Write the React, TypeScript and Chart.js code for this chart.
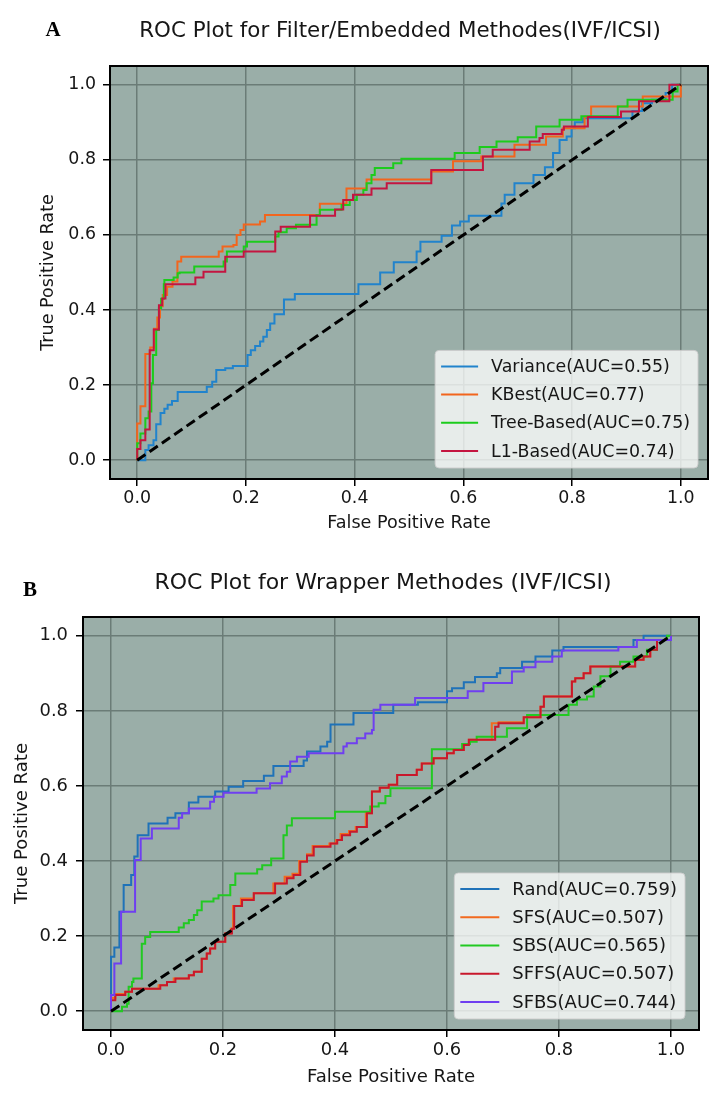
import React, { useEffect, useRef } from "react";
import { Chart, registerables } from "chart.js";

Chart.register(...registerables);

type Pt = [number, number];

// ---------------- shared axis values ----------------
const AXIS_TICKS = [0, 0.2, 0.4, 0.6, 0.8, 1.0];
const AXIS_MIN = -0.05;
const AXIS_MAX = 1.05;
const DIAGONAL: Pt[] = [[0, 0], [1, 1]];
const X_TITLE = "False Positive Rate";
const Y_TITLE = "True Positive Rate";

// ---------------- panel A ----------------
const TITLE_A = "ROC Plot for Filter/Embedded Methodes(IVF/ICSI)";
const LABELS_A = ["Variance(AUC=0.55)", "KBest(AUC=0.77)", "Tree-Based(AUC=0.75)", "L1-Based(AUC=0.74)"];
const COLORS_A = ["#2183cc", "#f2651d", "#1ccc1c", "#c41540"];

const varianceA: Pt[] = [[0,0],[0.015,0.027],[0.021,0.04],[0.03,0.053],[0.035,0.096],[0.043,0.126],[0.05,0.137],[0.056,0.148],[0.064,0.158],[0.0745,0.182],[0.128,0.196],[0.138,0.209],[0.1455,0.24],[0.162,0.245],[0.176,0.251],[0.203,0.28],[0.209,0.293],[0.217,0.304],[0.226,0.316],[0.232,0.329],[0.2385,0.347],[0.2446,0.364],[0.2525,0.389],[0.27,0.428],[0.29,0.443],[0.407,0.469],[0.447,0.5],[0.472,0.527],[0.514,0.556],[0.521,0.582],[0.56,0.598],[0.579,0.625],[0.594,0.636],[0.61,0.651],[0.67,0.684],[0.676,0.707],[0.694,0.738],[0.729,0.76],[0.75,0.78],[0.765,0.818],[0.777,0.853],[0.79,0.862],[0.799,0.884],[0.805,0.9],[0.82,0.911],[0.911,0.93],[0.929,0.951],[0.947,0.96],[0.972,0.978],[0.984,1],[1,1]];
const kbestA: Pt[] = [[0,0],[0,0.098],[0.006,0.144],[0.015,0.283],[0.024,0.3],[0.031,0.35],[0.037,0.38],[0.042,0.41],[0.047,0.44],[0.055,0.462],[0.065,0.476],[0.074,0.529],[0.081,0.542],[0.15,0.556],[0.157,0.569],[0.177,0.573],[0.183,0.6],[0.19,0.613],[0.196,0.628],[0.226,0.636],[0.235,0.653],[0.336,0.683],[0.385,0.724],[0.422,0.748],[0.541,0.769],[0.581,0.796],[0.633,0.809],[0.694,0.84],[0.752,0.862],[0.783,0.884],[0.823,0.915],[0.835,0.942],[0.93,0.969],[1,1]];
const treeA: Pt[] = [[0,0],[0,0.045],[0.006,0.071],[0.015,0.112],[0.021,0.13],[0.026,0.205],[0.029,0.28],[0.035,0.347],[0.04,0.405],[0.044,0.43],[0.049,0.469],[0.05,0.48],[0.067,0.487],[0.0745,0.498],[0.078,0.5],[0.105,0.516],[0.159,0.529],[0.165,0.556],[0.196,0.569],[0.202,0.582],[0.254,0.596],[0.26,0.607],[0.275,0.618],[0.292,0.627],[0.33,0.653],[0.336,0.667],[0.376,0.68],[0.391,0.693],[0.404,0.707],[0.416,0.72],[0.422,0.738],[0.431,0.76],[0.437,0.778],[0.471,0.791],[0.486,0.803],[0.584,0.818],[0.63,0.834],[0.661,0.849],[0.7,0.86],[0.734,0.889],[0.777,0.907],[0.817,0.916],[0.884,0.942],[0.902,0.96],[0.985,0.982],[0.994,1],[1,1]];
const l1A: Pt[] = [[0,0],[0,0.03],[0.006,0.053],[0.015,0.082],[0.023,0.293],[0.0305,0.348],[0.04,0.413],[0.046,0.431],[0.052,0.469],[0.107,0.487],[0.122,0.502],[0.162,0.542],[0.196,0.556],[0.254,0.609],[0.264,0.622],[0.318,0.651],[0.364,0.668],[0.379,0.693],[0.397,0.707],[0.431,0.724],[0.459,0.738],[0.541,0.773],[0.636,0.809],[0.654,0.827],[0.722,0.849],[0.74,0.858],[0.746,0.869],[0.781,0.88],[0.785,0.889],[0.829,0.914],[0.89,0.929],[0.923,0.956],[0.979,1],[1,1]];

// ---------------- panel B ----------------
const TITLE_B = "ROC Plot for Wrapper Methodes (IVF/ICSI)";
const LABELS_B = ["Rand(AUC=0.759)", "SFS(AUC=0.507)", "SBS(AUC=0.565)", "SFFS(AUC=0.507)", "SFBS(AUC=0.744)"];
const COLORS_B = ["#1f72b8", "#f26a1f", "#22c922", "#c8182c", "#6f3ff0"];

const randB: Pt[] = [[0,0],[0,0.145],[0.006,0.17],[0.015,0.265],[0.0226,0.336],[0.036,0.363],[0.0416,0.412],[0.0476,0.469],[0.067,0.5],[0.101,0.515],[0.115,0.527],[0.139,0.556],[0.156,0.571],[0.186,0.585],[0.21,0.598],[0.236,0.613],[0.273,0.627],[0.29,0.653],[0.344,0.668],[0.35,0.692],[0.374,0.705],[0.386,0.718],[0.392,0.764],[0.433,0.794],[0.504,0.816],[0.548,0.823],[0.6,0.852],[0.609,0.86],[0.63,0.876],[0.65,0.89],[0.689,0.9],[0.695,0.914],[0.734,0.931],[0.758,0.945],[0.788,0.961],[0.808,0.97],[0.933,0.989],[0.951,1],[1,1]];
const sfsB: Pt[] = [[0,0],[0,0.035],[0.0077,0.046],[0.0255,0.052],[0.0375,0.06],[0.085,0.069],[0.1,0.078],[0.112,0.087],[0.139,0.096],[0.148,0.105],[0.162,0.14],[0.171,0.154],[0.177,0.167],[0.186,0.185],[0.204,0.207],[0.214,0.22],[0.218,0.28],[0.232,0.3],[0.255,0.314],[0.29,0.34],[0.31,0.358],[0.324,0.366],[0.336,0.4],[0.35,0.418],[0.36,0.44],[0.39,0.447],[0.402,0.456],[0.41,0.472],[0.425,0.48],[0.437,0.491],[0.455,0.527],[0.466,0.585],[0.48,0.595],[0.496,0.603],[0.511,0.629],[0.546,0.643],[0.555,0.66],[0.576,0.674],[0.6,0.687],[0.612,0.696],[0.63,0.709],[0.639,0.723],[0.68,0.767],[0.692,0.77],[0.737,0.783],[0.767,0.811],[0.773,0.838],[0.823,0.878],[0.829,0.887],[0.844,0.9],[0.856,0.918],[0.936,0.936],[0.951,0.945],[0.963,0.963],[0.975,0.989],[1,1]];
const sbsB: Pt[] = [[0,0],[0.0196,0.012],[0.0286,0.02],[0.0315,0.065],[0.0375,0.078],[0.04,0.087],[0.055,0.18],[0.061,0.198],[0.07,0.211],[0.121,0.223],[0.13,0.234],[0.139,0.243],[0.148,0.256],[0.154,0.269],[0.162,0.292],[0.183,0.3],[0.192,0.309],[0.213,0.336],[0.222,0.367],[0.261,0.378],[0.27,0.389],[0.286,0.407],[0.308,0.469],[0.314,0.495],[0.323,0.514],[0.4,0.531],[0.463,0.545],[0.478,0.554],[0.49,0.573],[0.499,0.594],[0.573,0.698],[0.627,0.712],[0.641,0.718],[0.653,0.731],[0.707,0.754],[0.743,0.789],[0.817,0.816],[0.832,0.83],[0.85,0.838],[0.862,0.865],[0.874,0.892],[0.892,0.918],[0.909,0.931],[0.933,0.945],[0.957,0.963],[0.975,0.989],[0.993,1],[1,1]];
const sffsB: Pt[] = [[0,0],[0,0.029],[0.0077,0.043],[0.0255,0.052],[0.0375,0.06],[0.088,0.069],[0.1,0.078],[0.115,0.087],[0.139,0.096],[0.148,0.105],[0.162,0.14],[0.171,0.154],[0.177,0.167],[0.186,0.185],[0.204,0.207],[0.216,0.22],[0.22,0.28],[0.234,0.296],[0.255,0.314],[0.293,0.34],[0.314,0.354],[0.326,0.363],[0.338,0.398],[0.35,0.415],[0.362,0.438],[0.392,0.447],[0.404,0.456],[0.4125,0.469],[0.427,0.478],[0.439,0.491],[0.457,0.527],[0.466,0.585],[0.48,0.595],[0.496,0.603],[0.511,0.629],[0.546,0.643],[0.555,0.66],[0.576,0.674],[0.6,0.687],[0.612,0.696],[0.63,0.709],[0.639,0.723],[0.686,0.758],[0.692,0.767],[0.737,0.783],[0.767,0.811],[0.773,0.838],[0.823,0.878],[0.829,0.887],[0.844,0.9],[0.856,0.918],[0.936,0.936],[0.951,0.945],[0.963,0.963],[0.975,0.989],[1,1]];
const sfbsB: Pt[] = [[0,0],[0,0.043],[0.006,0.127],[0.018,0.265],[0.043,0.403],[0.053,0.46],[0.073,0.487],[0.121,0.515],[0.127,0.527],[0.139,0.54],[0.177,0.558],[0.184,0.571],[0.201,0.582],[0.26,0.593],[0.284,0.607],[0.305,0.625],[0.314,0.638],[0.32,0.665],[0.332,0.678],[0.353,0.687],[0.415,0.705],[0.421,0.714],[0.439,0.727],[0.454,0.74],[0.466,0.749],[0.469,0.803],[0.481,0.816],[0.543,0.834],[0.637,0.852],[0.665,0.874],[0.716,0.905],[0.737,0.916],[0.758,0.931],[0.788,0.945],[0.805,0.961],[0.906,0.97],[0.939,0.989],[1,1]];

// ---------------- styling ----------------
const FONT = '"DejaVu Sans", "Noto Sans", sans-serif';
const TEXT = "#161616";
const PLOT_BG = "#9aaea8";
const GRID = "#6b7c77";

interface Panel {
  letter: string;
  title: string;
  labels: string[];
  colors: string[];
  series: Pt[][];
  height: number;
  area: { left: number; top: number; right: number; bottom: number };
  titlePos: [number, number];
  letterPos: [number, number];
  titleSize: number;
  tickSize: number;
  labelSize: number;
  legendSize: number;
  tickPad: number;
  yTickPad: number;
  yTitlePad: number;
  xTitlePad: number;
  legend: { insetR: number; insetB: number; line: number; rowH: number };
}

const PANEL_A: Panel = {
  letter: "A", title: TITLE_A, labels: LABELS_A, colors: COLORS_A,
  series: [varianceA, kbestA, treeA, l1A],
  height: 540,
  area: { left: 110, top: 66, right: 708, bottom: 479 },
  titlePos: [400, 31], letterPos: [53, 31],
  titleSize: 21.4, tickSize: 17.4, labelSize: 17.6, legendSize: 17.4,
  tickPad: 2.5, yTickPad: 7, yTitlePad: 37.4, xTitlePad: 6.4,
  legend: { insetR: 10, insetB: 11, line: 37, rowH: 28.2 },
};

const PANEL_B: Panel = {
  letter: "B", title: TITLE_B, labels: LABELS_B, colors: COLORS_B,
  series: [randB, sfsB, sbsB, sffsB, sfbsB],
  height: 571,
  area: { left: 83, top: 77, right: 699, bottom: 490 },
  titlePos: [383, 43], letterPos: [30, 51],
  titleSize: 22, tickSize: 17.9, labelSize: 18.1, legendSize: 18,
  tickPad: 2.3, yTickPad: 8, yTitlePad: 11.1, xTitlePad: 23.1,
  legend: { insetR: 14, insetB: 11, line: 39, rowH: 28.25 },
};

function roundRect(ctx: CanvasRenderingContext2D, x: number, y: number, w: number, h: number, r: number) {
  ctx.beginPath();
  ctx.moveTo(x + r, y);
  ctx.lineTo(x + w - r, y);
  ctx.quadraticCurveTo(x + w, y, x + w, y + r);
  ctx.lineTo(x + w, y + h - r);
  ctx.quadraticCurveTo(x + w, y + h, x + w - r, y + h);
  ctx.lineTo(x + r, y + h);
  ctx.quadraticCurveTo(x, y + h, x, y + h - r);
  ctx.lineTo(x, y + r);
  ctx.quadraticCurveTo(x, y, x + r, y);
  ctx.closePath();
}

function decorPlugin(p: Panel) {
  return {
    id: "rocDecor" + p.letter,
    beforeDraw(chart: any) {
      const { ctx, chartArea: a } = chart;
      ctx.save();
      ctx.fillStyle = "#ffffff";
      ctx.fillRect(0, 0, chart.width, chart.height);
      ctx.fillStyle = PLOT_BG;
      ctx.fillRect(a.left, a.top, a.right - a.left, a.bottom - a.top);
      ctx.restore();
    },
    afterDatasetsDraw(chart: any) {
      const { ctx, chartArea: a } = chart;
      ctx.save();
      // frame
      ctx.strokeStyle = "#000";
      ctx.lineWidth = 2;
      ctx.strokeRect(a.left, a.top, a.right - a.left, a.bottom - a.top);

      // legend
      const items = chart.data.datasets.filter((d: any) => d.inLegend);
      const lg = p.legend;
      ctx.font = `${p.legendSize}px ${FONT}`;
      const maxW = Math.max(...items.map((d: any) => ctx.measureText(d.label).width));
      const padL = 6, gap = 13, padR = 8, padT = 16, padB = 17;
      const boxW = padL + lg.line + gap + maxW + padR;
      const boxH = padT + (items.length - 1) * lg.rowH + padB;
      const right = a.right - lg.insetR;
      const bottom = a.bottom - lg.insetB;
      const left = right - boxW;
      const top = bottom - boxH;
      roundRect(ctx, left, top, boxW, boxH, 4);
      ctx.fillStyle = "rgba(255,255,255,0.76)";
      ctx.fill();
      ctx.strokeStyle = "rgba(204,204,204,0.9)";
      ctx.lineWidth = 1;
      ctx.stroke();
      ctx.textAlign = "left";
      ctx.textBaseline = "middle";
      items.forEach((d: any, i: number) => {
        const y = top + padT + i * lg.rowH;
        ctx.strokeStyle = d.borderColor;
        ctx.lineWidth = 2;
        ctx.beginPath();
        ctx.moveTo(left + padL, y);
        ctx.lineTo(left + padL + lg.line, y);
        ctx.stroke();
        ctx.fillStyle = TEXT;
        ctx.fillText(d.label, left + padL + lg.line + gap, y + 1);
      });
      ctx.restore();
    },
    afterDraw(chart: any) {
      const { ctx } = chart;
      ctx.save();
      ctx.fillStyle = TEXT;
      ctx.textAlign = "center";
      ctx.textBaseline = "middle";
      ctx.font = `${p.titleSize}px ${FONT}`;
      ctx.fillText(p.title, p.titlePos[0], p.titlePos[1]);
      ctx.fillStyle = "#000";
      ctx.font = `bold 21px "Liberation Serif", "DejaVu Serif", serif`;
      ctx.fillText(p.letter, p.letterPos[0], p.letterPos[1]);
      ctx.restore();
    },
  };
}

function buildConfig(p: Panel): any {
  const datasets: any[] = p.series.map((pts, i) => ({
    label: p.labels[i],
    inLegend: true,
    data: pts.map(([x, y]) => ({ x, y })),
    borderColor: p.colors[i],
    backgroundColor: p.colors[i],
    borderWidth: 2,
    pointRadius: 0,
    stepped: true,
    fill: false,
    tension: 0,
    order: 20 - i,
  }));
  datasets.push({
    label: "chance",
    inLegend: false,
    data: DIAGONAL.map(([x, y]) => ({ x, y })),
    borderColor: "#000",
    borderWidth: 3,
    borderDash: [10, 5],
    pointRadius: 0,
    fill: false,
    order: 0,
  });

  const setTicks = (s: any) => {
    s.ticks = AXIS_TICKS.map((v) => ({ value: v }));
  };
  const tickFmt = (v: any) => Number(v).toFixed(1);
  const grid = {
    color: GRID,
    lineWidth: 1.5,
    drawTicks: true,
    tickLength: 7,
    tickColor: "#000",
    tickWidth: 1.5,
  };

  return {
    type: "line",
    data: { datasets },
    plugins: [decorPlugin(p)],
    options: {
      animation: false,
      responsive: false,
      devicePixelRatio: 1,
      events: [],
      layout: {
        padding: { left: 0, top: p.area.top, right: 720 - p.area.right, bottom: 0 },
      },
      plugins: {
        legend: { display: false },
        title: { display: false },
        tooltip: { enabled: false },
      },
      scales: {
        x: {
          type: "linear",
          min: AXIS_MIN,
          max: AXIS_MAX,
          afterBuildTicks: setTicks,
          afterFit: (s: any) => { s.height = p.height - p.area.bottom; },
          ticks: {
            callback: tickFmt,
            autoSkip: false,
            maxRotation: 0,
            padding: p.tickPad,
            color: TEXT,
            font: { family: FONT, size: p.tickSize },
          },
          grid,
          border: { display: false },
          title: {
            display: true,
            text: X_TITLE,
            color: TEXT,
            font: { family: FONT, size: p.labelSize },
            padding: { top: 0, bottom: p.xTitlePad },
          },
        },
        y: {
          type: "linear",
          min: AXIS_MIN,
          max: AXIS_MAX,
          afterBuildTicks: setTicks,
          afterFit: (s: any) => { s.width = p.area.left; },
          ticks: {
            callback: tickFmt,
            autoSkip: false,
            padding: p.yTickPad,
            color: TEXT,
            font: { family: FONT, size: p.tickSize },
          },
          grid,
          border: { display: false },
          title: {
            display: true,
            text: Y_TITLE,
            color: TEXT,
            font: { family: FONT, size: p.labelSize },
            padding: { top: p.yTitlePad, bottom: 0 },
          },
        },
      },
    },
  };
}

function RocPanel({ panel, top }: { panel: Panel; top: number }) {
  const ref = useRef<HTMLCanvasElement | null>(null);
  useEffect(() => {
    if (!ref.current) return;
    const chart = new Chart(ref.current, buildConfig(panel));
    return () => chart.destroy();
  }, [panel]);
  return (
    <canvas
      ref={ref}
      width={720}
      height={panel.height}
      style={{ position: "absolute", left: 0, top, width: 720, height: panel.height, display: "block" }}
    />
  );
}

export default function App() {
  return (
    <div style={{ position: "absolute", left: 0, top: 0, width: 720, height: 1111, background: "#ffffff", overflow: "hidden" }}>
      <RocPanel panel={PANEL_A} top={0} />
      <RocPanel panel={PANEL_B} top={540} />
    </div>
  );
}
